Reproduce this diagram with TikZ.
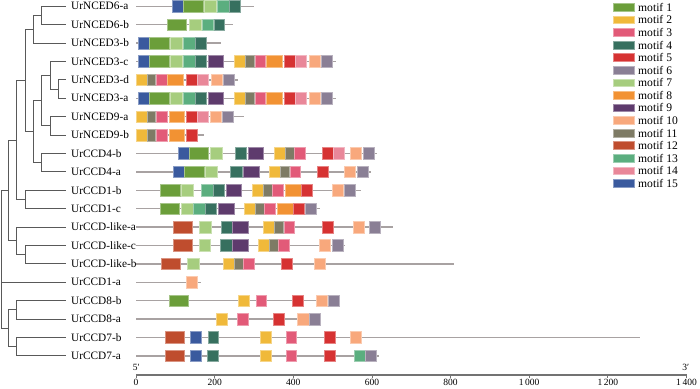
\documentclass[tikz,border=0pt]{standalone}
\usepackage{fontspec}
\setmainfont{Liberation Serif}
\usetikzlibrary{positioning}

\definecolor{m1}{HTML}{6B9E3A}
\definecolor{m2}{HTML}{F0B93A}
\definecolor{m3}{HTML}{E25A78}
\definecolor{m4}{HTML}{37705F}
\definecolor{m5}{HTML}{D63232}
\definecolor{m6}{HTML}{8A7F95}
\definecolor{m7}{HTML}{A6CD7E}
\definecolor{m8}{HTML}{F29233}
\definecolor{m9}{HTML}{5E3B6D}
\definecolor{m10}{HTML}{F8A87C}
\definecolor{m11}{HTML}{7E7B65}
\definecolor{m12}{HTML}{BF4D2E}
\definecolor{m13}{HTML}{5BAE7F}
\definecolor{m14}{HTML}{E98799}
\definecolor{m15}{HTML}{3A5A9E}
\definecolor{bbgray}{HTML}{A8A2A2}

% y of row #1
\newcommand{\rowy}[1]{6.3+18.4*(#1-1)}
% boxes of one row: start/end/motif
\newcommand{\motifs}[2]{%
  \foreach \xa/\xb/\mc in {#2}
    {\path[motif=m\mc] (\xa,{\rowy{#1}-5.8}) rectangle (\xb,{\rowy{#1}+5.8});}}

\begin{document}
\begin{tikzpicture}[
    x=1pt, y=-1pt,
    font=\fontsize{11.3}{13}\selectfont,
    genelbl/.style={anchor=west, inner sep=0pt},
    tree/.style={draw=black!65, line width=0.9pt},
    backbone/.style={draw=bbgray, line width=1.3pt},
    motif/.style={fill=#1, draw=#1!60!white, line width=0.7pt},
    swatch/.style={minimum width=21pt, minimum height=7.6pt, inner sep=0pt,
                   draw=#1!60!white, fill=#1, line width=0.6pt},
    legtxt/.style={inner sep=0pt, right=3.4pt of #1,
                   font=\fontsize{11.6}{13}\selectfont},
    axis/.style={draw=black!55, line width=1.3pt},
    ticklbl/.style={font=\fontsize{9.5}{11}\selectfont, inner sep=0pt},
]
\useasboundingbox (0,0) rectangle (700,388);

% --- gene rows: label, backbone ---
\foreach \i/\gname/\len in {
    1/UrNCED6-a/254, 2/UrNCED6-b/233, 3/UrNCED3-b/221, 4/UrNCED3-c/335.7,
    5/UrNCED3-d/237.7, 6/UrNCED3-a/335.7, 7/UrNCED9-a/244, 8/UrNCED9-b/204.3,
    9/UrCCD4-b/377.3, 10/UrCCD4-a/371.3, 11/UrCCD1-b/361, 12/UrCCD1-c/320,
    13/UrCCD-like-a/393.3, 14/UrCCD-like-c/345, 15/UrCCD-like-b/454.3,
    16/UrCCD1-a/201, 17/UrCCD8-b/340.3, 18/UrCCD8-a/320.7, 19/UrCCD7-b/640,
    20/UrCCD7-a/379.3} {
  \node[genelbl] (lab\i) at (71,{\rowy{\i}}) {\gname};
  \coordinate (t\i) at (65.7,{\rowy{\i}});
  \coordinate (s\i) at (136,{\rowy{\i}});
  \coordinate (e\i) at (\len,{\rowy{\i}});
  \draw[backbone] (s\i) -- (e\i);
}

% --- motif boxes ---
\motifs{1}{172/183.3/15, 183.3/203/1, 204.7/216.7/7, 217.3/229/13, 229.7/240.3/4}
\motifs{2}{167.7/186.7/1, 189/201/7, 202/213.3/13, 214/224.7/4}
\motifs{3}{138.3/149.3/15, 149.3/169/1, 170.7/182.3/7, 183.3/195/13, 195.7/206.3/4}
\foreach \r in {4,6} {
  \motifs{\r}{138.3/149.3/15, 149.3/169/1, 170.7/182.3/7, 183.3/195/13,
    195.7/206.3/4, 208/223.7/9, 234.3/245.3/2, 245.3/254/11, 255/265.3/3,
    266/282/8, 284.3/295.3/5, 295.3/306.7/14, 309/320/10, 321.7/332.3/6}
}
\motifs{5}{136/147.3/2, 147.3/155.7/11, 156.7/167/3, 167.7/183.7/8,
  186.3/197.3/5, 197.3/208.7/14, 211/222/10, 223.3/234.3/6}
\motifs{7}{136/147.3/2, 147.3/155.7/11, 156.7/167/3, 169/184.7/8,
  186/197/5, 197/208.7/14, 210/221.3/10, 222.3/233.7/6}
\motifs{8}{136/147.3/2, 147.3/155.7/11, 156.7/167/3, 169/184.7/8, 186/197/5}
\motifs{9}{178/189.3/15, 189.3/208.7/1, 210/222/7, 235.3/246.7/4, 248/263.7/9,
  274.3/285.7/2, 285.7/294/11, 294.7/305.3/3, 322.3/333.3/5, 333.3/344.7/14,
  350.3/361.7/10, 363.3/374.7/6}
\motifs{10}{173.3/184.3/15, 184.3/204/1, 205.7/217.3/7, 230.7/242/4,
  243.3/259.3/9, 269.7/280.7/2, 280.7/289.3/11, 290/300.7/3, 317.3/328.7/5,
  344.3/355.7/10, 357.3/368.7/6}
\motifs{11}{160.7/180/1, 181.7/193.3/7, 201.7/213.3/13, 213.3/224.3/4,
  226/241.7/9, 252.3/263.3/2, 263.3/272/11, 272.7/283.3/3, 285/301/8,
  301/312.3/5, 332/343/10, 344.7/355.7/6}
\motifs{12}{160.3/179.7/1, 181.3/193.3/7, 193.7/205.3/13, 205.7/216.7/4,
  218.3/234/9, 244.3/255.3/2, 255.3/264/11, 264.7/275.3/3, 277/293/8,
  293.7/304.7/5, 305.3/316/6}
\motifs{13}{173/192/12, 199.3/211/7, 221/232.3/4, 232.7/248.3/9,
  263.7/274.7/2, 274.7/283.3/11, 284/294.3/3, 322.3/333.3/5, 353/364/10,
  369.7/380.7/6}
\motifs{14}{173/192/12, 199/210.7/7, 220.7/232/4, 232.3/248.3/9,
  258.7/269.7/2, 269.7/278.3/11, 278.7/289.3/3, 319/330/10, 332/343.3/6}
\motifs{15}{161/180.3/12, 187/199/7, 223.7/234.7/2, 234.7/243.3/11,
  243.7/254/3, 281.3/292.3/5, 314/325/10}
\motifs{16}{186.3/197.3/10}
\motifs{17}{169/188.3/1, 238/249/2, 256.3/266.7/3, 292.3/303.3/5,
  316.7/327.7/10, 328.3/339.3/6}
\motifs{18}{216/227.3/2, 237.3/248/3, 273.3/284.3/5, 297.7/309/10,
  309.7/320.7/6}
\motifs{19}{165.7/184.7/12, 190.7/201.7/15, 208/218.7/4, 260.7/271.7/2,
  286.3/296.7/3, 324.3/335.3/5, 350.7/361.7/10}
\motifs{20}{165.3/184.3/12, 190.3/201.3/15, 207.3/218.3/4, 260.3/271.3/2,
  286/296.3/3, 324.3/335.3/5, 354/365.3/13, 365.3/376.3/6}

% --- tree: branch points ---
\coordinate (nA) at (41.7,15.5);
\coordinate (nB) at (33.7,29.3);
\coordinate (nC) at (58.3,89.1);
\coordinate (nD) at (50,75.3);
\coordinate (nE) at (50,125.9);
\coordinate (nF) at (41.7,100.6);
\coordinate (nG) at (41.7,162.7);
\coordinate (nH) at (33.7,131.65);
\coordinate (nI) at (25.7,80.5);
\coordinate (nJ) at (25.7,199.5);
\coordinate (nK) at (16.7,140);
\coordinate (nM) at (25.7,254.7);
\coordinate (nN) at (16.7,240.9);
\coordinate (nP) at (8.3,190.45);
\coordinate (nQ) at (16.7,309.9);
\coordinate (nR) at (16.7,346.7);
\coordinate (nS) at (8.3,328.3);
\coordinate (root) at (1,259.4);

% --- tree: edges ---
\foreach \p/\q in {nA/t1, nA/t2, nB/nA, nB/t3, nC/t5, nC/t6, nD/t4, nD/nC,
    nE/t7, nE/t8, nF/nD, nF/nE, nG/t9, nG/t10, nH/nF, nH/nG, nI/nB, nI/nH,
    nJ/t11, nJ/t12, nK/nI, nK/nJ, nM/t14, nM/t15, nN/t13, nN/nM, nP/nK,
    nP/nN, nQ/t17, nQ/t18, nR/t19, nR/t20, nS/nQ, nS/nR, root/nP, root/t16,
    root/nS}
  \draw[tree] (\p) |- (\q);

% --- axis ---
\coordinate (ax0) at (136,375);
\coordinate (ax1) at (686.5,375);
\draw[axis] (ax0) -- (ax1);
\foreach \v/\t in {0/0, 200/200, 400/400, 600/600, 800/800,
    1000/{1\,000}, 1200/{1\,200}, 1400/{1\,400}} {
  \draw[axis, line width=0.8pt] ({136+0.3932*\v},375) -- ++(0,3);
  \node[ticklbl] (tk\v) at ({136+0.3932*\v},382.6) {\t};
}
\node[ticklbl, above left=4pt and -4pt of ax0] (five) {5′};
\node[ticklbl, above left=4pt and -3pt of ax1] (three) {3′};

% --- legend ---
\foreach \k in {1,...,15} {
  \node[swatch=m\k] (sw\k) at (623.8,{7.3+12.57*(\k-1)}) {};
  \node[legtxt=sw\k] (lg\k) {motif \k};
}
\end{tikzpicture}
\end{document}
